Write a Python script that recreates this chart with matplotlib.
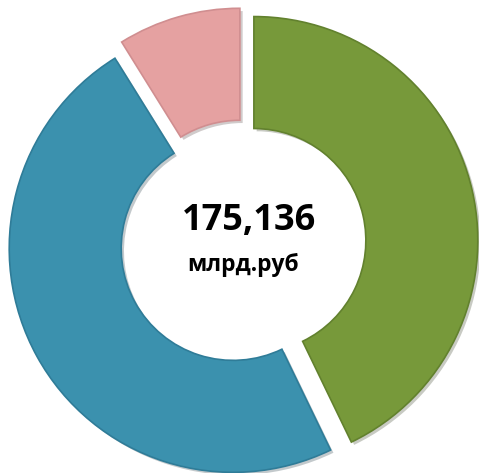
import matplotlib
matplotlib.use('Agg')
import matplotlib.pyplot as plt
import matplotlib.patheffects as pe

# доли структуры, млрд.руб (оценка по рисунку)
labels = ['Группа 1', 'Группа 2', 'Группа 3']
values = [75.0, 84.6, 15.5]
colors = ['#77993A', '#3B91AE', '#E5A1A1']
edge_colors = ['#62812E', '#2F7C98', '#D08E90']
total_text = '175,136'
unit_text = 'млрд.руб'

fig = plt.figure(figsize=(4.79, 4.73), dpi=100)
ax = fig.add_axes([0, 0, 1, 1])

wedges, _ = ax.pie(values, colors=colors, startangle=90, counterclock=False,
                   explode=[0.05] * len(values), radius=1.0,
                   wedgeprops=dict(width=0.5, linewidth=1.2))
for w, ec in zip(wedges, edge_colors):
    w.set_edgecolor(ec)
    w.set_path_effects([pe.SimplePatchShadow(offset=(2, -2), alpha=0.25),
                        pe.Normal()])

ax.text(0.025, 0.098, total_text, ha='center', va='center',
        fontsize=26, fontweight='bold', family=['Open Sans', 'DejaVu Sans'])
ax.text(0.0, -0.1, unit_text, ha='center', va='center',
        fontsize=16.5, fontweight='bold', family=['Open Sans', 'DejaVu Sans'])

ax.set_xlim(-1.085, 1.054)
ax.set_ylim(-1.027, 1.085)
ax.set_aspect('equal')
ax.axis('off')

fig.savefig('out.png', dpi=100)
